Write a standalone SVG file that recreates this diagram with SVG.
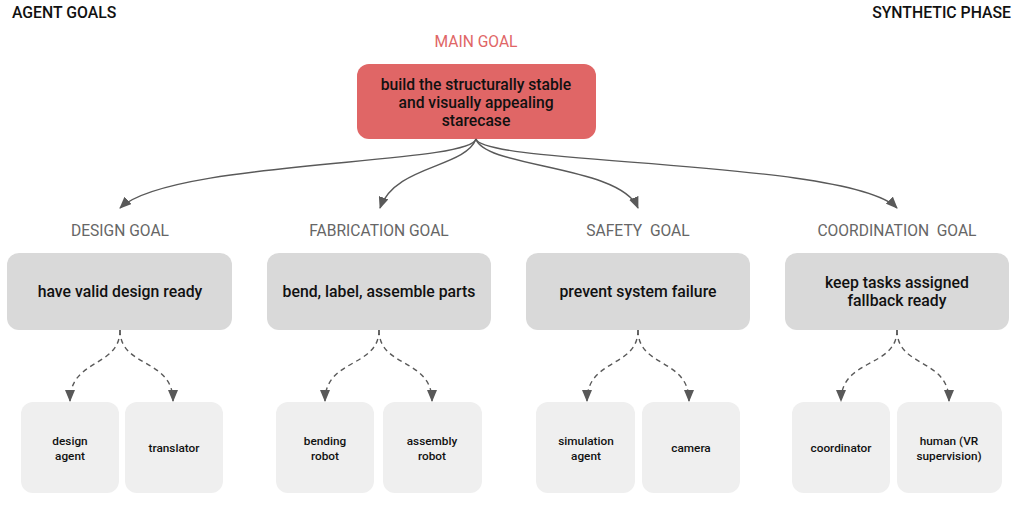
<svg xmlns="http://www.w3.org/2000/svg" width="1024" height="506" viewBox="0 0 1024 506">
<defs>
<marker id="ah" viewBox="0 0 12 10" refX="11" refY="5" markerWidth="12" markerHeight="10" markerUnits="userSpaceOnUse" orient="auto">
<path d="M0,0 L12,5 L0,10 Z" fill="#595959"/>
</marker>
</defs>
<style>
text{font-family:Roboto,"Liberation Sans",sans-serif;text-anchor:middle}
.hdr{font-size:15.8px;font-weight:500;fill:#111}
.lbl{font-size:15.6px;fill:#666}
.main{fill:#e06666}
.mt{font-size:15.7px;font-weight:500;fill:#111}
.goal{fill:#d9d9d9}
.gt{font-size:15.8px;font-weight:500;fill:#111}
.child{fill:#efefef}
.ct{font-size:11.8px;font-weight:500;fill:#111}
.edge{fill:none;stroke:#595959;stroke-width:1.4;marker-end:url(#ah)}
.dash{fill:none;stroke:#595959;stroke-width:1.4;stroke-dasharray:5,4;marker-end:url(#ah)}
</style>
<rect width="1024" height="506" fill="#ffffff"/>
<text class="hdr" x="12" y="18" style="text-anchor:start">AGENT GOALS</text>
<text class="hdr" x="1011" y="18" style="text-anchor:end">SYNTHETIC PHASE</text>

<g id="main-goal">
<text x="476" y="47" style="font-size:15.6px;fill:#e06666">MAIN GOAL</text>
<rect class="main" x="357" y="64" width="239" height="75" rx="12"/>
<text class="mt" x="476" y="90">build the structurally stable</text>
<text class="mt" x="476" y="108">and visually appealing</text>
<text class="mt" x="476" y="126">starecase</text>
</g>

<g id="design-goal">
<text class="lbl" x="120" y="236">DESIGN GOAL</text>
<rect class="goal" x="7" y="253" width="225" height="77" rx="12"/>
<text class="gt" x="120" y="297">have valid design ready</text>
</g>
<g id="fabrication-goal">
<text class="lbl" x="379" y="236">FABRICATION GOAL</text>
<rect class="goal" x="267" y="253" width="224" height="77" rx="12"/>
<text class="gt" x="379" y="297">bend, label, assemble parts</text>
</g>
<g id="safety-goal">
<text class="lbl" x="638" y="236" xml:space="preserve">SAFETY  GOAL</text>
<rect class="goal" x="526" y="253" width="224" height="77" rx="12"/>
<text class="gt" x="638" y="297">prevent system failure</text>
</g>
<g id="coordination-goal">
<text class="lbl" x="897" y="236" xml:space="preserve">COORDINATION  GOAL</text>
<rect class="goal" x="785" y="253" width="224" height="77" rx="12"/>
<text class="gt" x="897" y="288">keep tasks assigned</text>
<text class="gt" x="897" y="306">fallback ready</text>
</g>

<g id="design-agent">
<rect class="child" x="21" y="402" width="98" height="91" rx="12"/>
<text class="ct" x="70" y="445">design</text>
<text class="ct" x="70" y="460">agent</text>
</g>
<g id="translator">
<rect class="child" x="125" y="402" width="98" height="91" rx="12"/>
<text class="ct" x="174" y="452">translator</text>
</g>
<g id="bending-robot">
<rect class="child" x="276" y="402" width="98" height="91" rx="12"/>
<text class="ct" x="325" y="445">bending</text>
<text class="ct" x="325" y="460">robot</text>
</g>
<g id="assembly-robot">
<rect class="child" x="383" y="402" width="99" height="91" rx="12"/>
<text class="ct" x="432" y="445">assembly</text>
<text class="ct" x="432" y="460">robot</text>
</g>
<g id="simulation-agent">
<rect class="child" x="536" y="402" width="99" height="91" rx="12"/>
<text class="ct" x="586" y="445">simulation</text>
<text class="ct" x="586" y="460">agent</text>
</g>
<g id="camera">
<rect class="child" x="642" y="402" width="98" height="91" rx="12"/>
<text class="ct" x="691" y="452">camera</text>
</g>
<g id="coordinator">
<rect class="child" x="792" y="402" width="98" height="91" rx="12"/>
<text class="ct" x="841" y="452">coordinator</text>
</g>
<g id="human">
<rect class="child" x="897" y="402" width="105" height="91" rx="12"/>
<text class="ct" x="949" y="445">human (VR</text>
<text class="ct" x="949" y="460">supervision)</text>
</g>

<g id="connectors">
<path class="edge" d="M476,139 C470,165 170,160 120,208"/>
<path class="edge" d="M476,139 C465,168 395,165 380,208"/>
<path class="edge" d="M476,139 C485,168 620,165 638,208"/>
<path class="edge" d="M476,139 C482,165 850,160 897,208"/>
<path class="dash" d="M120,330 C120,368 70,358 70,401"/>
<path class="dash" d="M120,330 C120,368 173,358 173,401"/>
<path class="dash" d="M379,330 C379,368 325,358 325,401"/>
<path class="dash" d="M379,330 C379,368 432,358 432,401"/>
<path class="dash" d="M638,330 C638,368 587,358 587,401"/>
<path class="dash" d="M638,330 C638,368 689,358 689,401"/>
<path class="dash" d="M897,330 C897,368 841,358 841,401"/>
<path class="dash" d="M897,330 C897,368 949,358 949,401"/>
</g>
</svg>
